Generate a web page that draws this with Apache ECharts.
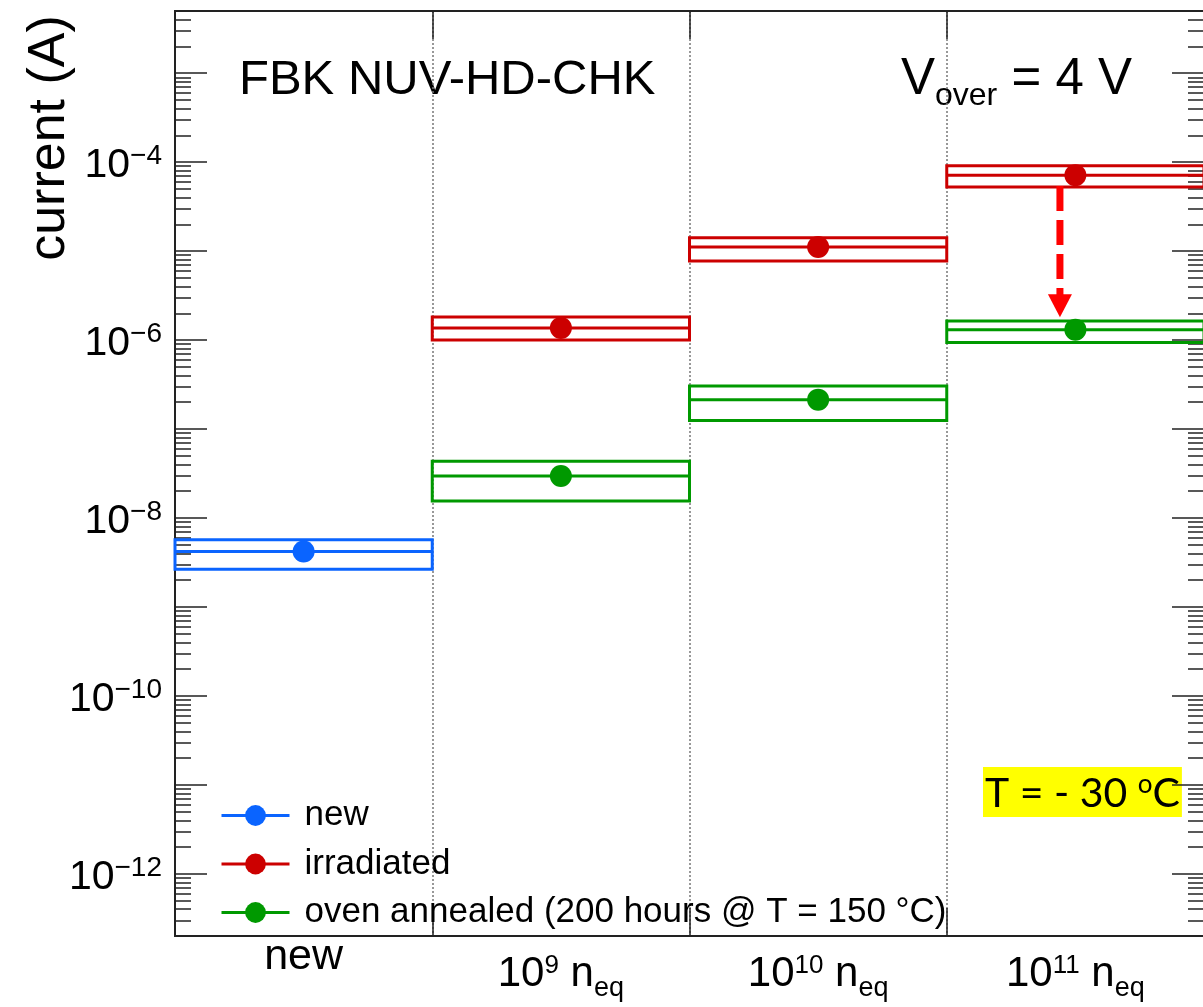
<!DOCTYPE html>
<html>
<head>
<meta charset="utf-8">
<script src="https://cdn.jsdelivr.net/npm/echarts@6/dist/echarts.min.js"></script>
<style>
  html, body { margin: 0; padding: 0; background: #fff; }
  #chart { width: 1203px; height: 1007px; }
</style>
</head>
<body>
<div id="chart"></div>
<script>
// bins on the x axis
const categories = ['new', '1e9', '1e10', '1e11'];
const xTickLabels = [
  '{w|new}',
  '{m|10}{sup|9}{m| n}{sub|eq}',
  '{m|10}{sup|10}{m| n}{sub|eq}',
  '{m|10}{sup|11}{m| n}{sub|eq}'
];

// current (A): central value and box low / high per bin
const newCenter = [4.2e-9, '-', '-', '-'];
const newLow    = [2.66e-9, '-', '-', '-'];
const newHigh   = [5.7e-9, '-', '-', '-'];

const irrCenter = ['-', 1.37e-6, 1.11e-5, 7.14e-5];
const irrLow    = ['-', 1.0e-6, 7.76e-6, 5.27e-5];
const irrHigh   = ['-', 1.82e-6, 1.41e-5, 9.08e-5];

const ovenCenter = ['-', 2.96e-8, 2.14e-7, 1.31e-6];
const ovenLow    = ['-', 1.55e-8, 1.25e-7, 9.37e-7];
const ovenHigh   = ['-', 4.34e-8, 3.05e-7, 1.64e-6];

// annealing arrow (bin index, from, to)
const arrowBin = 3;
const arrowFrom = 5.4e-5;
const arrowTo = 1.8e-6;

// y axis range and ticks
const yMin = 2e-13;
const yMax = 5e-3;
const majorTicks = [1e-12, 1e-11, 1e-10, 1e-9, 1e-8, 1e-7, 1e-6, 1e-5, 1e-4, 1e-3];
const labelTicks = [1e-12, 1e-10, 1e-8, 1e-6, 1e-4];
const minorTicks = [];
for (let e = -13; e <= -3; e++) {
  for (let k = 2; k <= 9; k++) {
    const v = Number(k + 'e' + e);
    if (v > yMin && v < yMax) minorTicks.push(v);
  }
}

const FONT = '"Liberation Sans", Arial, Helvetica, sans-serif';
const BLUE = '#0a64ff', RED = '#cc0000', GREEN = '#009900';
const NAMES = ['new', 'irradiated', 'oven annealed (200 hours @ T = 150 °C)'];

function boxData(low, center, high) {
  const out = [];
  center.forEach((c, i) => {
    if (c !== '-') out.push([i, low[i], c, high[i]]);
  });
  return out;
}

function renderBox(params, api) {
  const i = api.value(0);
  const lo = api.coord([i, api.value(1)]);
  const mid = api.coord([i, api.value(2)]);
  const hi = api.coord([i, api.value(3)]);
  const w = api.size([1, 0])[0];
  const x0 = mid[0] - w / 2;
  const color = api.visual('color');
  return {
    type: 'group',
    children: [
      { type: 'rect', shape: { x: x0, y: hi[1], width: w, height: lo[1] - hi[1] },
        style: { fill: 'none', stroke: color, lineWidth: 3 } },
      { type: 'line', shape: { x1: x0, y1: mid[1], x2: x0 + w, y2: mid[1] },
        style: { stroke: color, lineWidth: 3 } }
    ]
  };
}

function renderArrow(params, api) {
  const w = api.size([1, 0])[0];
  const top = api.coord([api.value(0), api.value(1)]);
  const tip = api.coord([api.value(0), api.value(2)]);
  const x = top[0] - 0.06 * w;
  const headH = 23, headW = 24;
  return {
    type: 'group',
    children: [
      { type: 'line', shape: { x1: x, y1: top[1], x2: x, y2: tip[1] - headH + 2 },
        style: { stroke: '#ff0000', lineWidth: 7, lineDash: [25, 9] } },
      { type: 'polygon', shape: { points: [[x - headW / 2, tip[1] - headH], [x + headW / 2, tip[1] - headH], [x, tip[1]]] },
        style: { fill: '#ff0000' } }
    ]
  };
}

const chart = echarts.init(document.getElementById('chart'), null, { renderer: 'canvas' });

const axisLine = { show: true, lineStyle: { color: '#222', width: 2 } };
const tickStyle = { color: '#222', width: 1.5 };
const yCommon = {
  type: 'log', logBase: 10, min: yMin, max: yMax,
  axisLine: axisLine, splitLine: { show: false }, minorTick: { show: false }
};

chart.setOption({
  animation: false,
  backgroundColor: '#fff',
  grid: { left: 175, top: 11, width: 1029, height: 925, containLabel: false, outerBoundsMode: 'none' },
  legend: {
    orient: 'vertical', left: 215, top: 793,
    itemWidth: 68, itemHeight: 26, itemGap: 13.5,
    selectedMode: false,
    data: NAMES,
    lineStyle: { width: 3 },
    textStyle: { fontSize: 35, fontFamily: FONT, color: '#000', lineHeight: 26, padding: [0, 0, 0, 10] }
  },
  xAxis: [
    {
      type: 'category', data: categories, position: 'bottom', boundaryGap: true,
      axisLine: axisLine,
      axisTick: { show: true, inside: true, length: 28, interval: 0, lineStyle: tickStyle },
      axisLabel: {
        interval: 0, margin: 8, color: '#000', fontFamily: FONT,
        formatter: (v, i) => xTickLabels[i],
        rich: {
          w: { fontSize: 43, fontFamily: FONT, color: '#000', lineHeight: 26 },
          m: { fontSize: 42, fontFamily: FONT, color: '#000', lineHeight: 60, verticalAlign: 'middle' },
          sup: { fontSize: 26, fontFamily: FONT, color: '#000', height: 44, verticalAlign: 'top' },
          sub: { fontSize: 27, fontFamily: FONT, color: '#000', height: 30, verticalAlign: 'bottom' }
        }
      },
      splitLine: { show: true, interval: 0, lineStyle: { color: '#777', width: 1.5, type: [2, 2] } }
    },
    {
      type: 'category', data: categories, position: 'top', boundaryGap: true,
      axisLine: axisLine,
      axisTick: { show: true, inside: true, length: 28, interval: 0, lineStyle: tickStyle },
      axisLabel: { show: false },
      splitLine: { show: false }
    }
  ],
  yAxis: [
    Object.assign({}, yCommon, {
      position: 'left',
      axisTick: { show: true, inside: true, length: 32, customValues: majorTicks, lineStyle: tickStyle },
      axisLabel: {
        show: true, margin: 13, customValues: labelTicks,
        formatter: v => {
          const e = Math.round(Math.log10(v));
          return '{b|10}{s|' + (e < 0 ? '\u2212' + (-e) : e) + '}';
        },
        rich: {
          b: { fontSize: 41, fontFamily: FONT, color: '#000', lineHeight: 48, height: 40, verticalAlign: 'bottom' },
          s: { fontSize: 28, fontFamily: FONT, color: '#000', height: 36, verticalAlign: 'top' }
        }
      }
    }),
    Object.assign({}, yCommon, {
      position: 'left',
      axisTick: { show: true, inside: true, length: 16, customValues: minorTicks, lineStyle: tickStyle },
      axisLabel: { show: false }
    }),
    Object.assign({}, yCommon, {
      position: 'right',
      axisTick: { show: true, inside: true, length: 32, customValues: majorTicks, lineStyle: tickStyle },
      axisLabel: { show: false }
    }),
    Object.assign({}, yCommon, {
      position: 'right',
      axisTick: { show: true, inside: true, length: 16, customValues: minorTicks, lineStyle: tickStyle },
      axisLabel: { show: false }
    })
  ],
  graphic: [
    { type: 'text', x: 50, y: 138, rotation: Math.PI / 2,
      style: { text: 'current (A)', font: '52px ' + FONT, fill: '#000', align: 'center', verticalAlign: 'middle' } },
    { type: 'text', x: 239, y: 80,
      style: { text: 'FBK NUV-HD-CHK', font: '49px ' + FONT, fill: '#000', verticalAlign: 'middle' } },
    { type: 'text', x: 901, y: 80,
      style: {
        text: '{v|V}{s|over}{v| = 4 V}', verticalAlign: 'middle',
        rich: {
          v: { fontSize: 51, fontFamily: FONT, fill: '#000', lineHeight: 60 },
          s: { fontSize: 32, fontFamily: FONT, fill: '#000', height: 28, verticalAlign: 'bottom' }
        }
      } },
    { type: 'text', x: 983, y: 767,
      style: {
        text: '{t|T = - 30 }{o|o}{t|C}', backgroundColor: '#ffff00', padding: [3, 2, 1, 2],
        rich: {
          t: { fontSize: 41, fontFamily: 'Lato, "Open Sans", sans-serif', fill: '#000', lineHeight: 46, verticalAlign: 'bottom', height: 44 },
          o: { fontSize: 26, fontFamily: 'Lato, "Open Sans", sans-serif', fill: '#000', height: 30, verticalAlign: 'top' }
        }
      } }
  ],
  series: [
    { type: 'custom', renderItem: renderBox, itemStyle: { color: BLUE }, data: boxData(newLow, newCenter, newHigh),
      encode: { x: 0, y: [1, 2, 3] }, z: 2 },
    { type: 'custom', renderItem: renderBox, itemStyle: { color: RED }, data: boxData(irrLow, irrCenter, irrHigh),
      encode: { x: 0, y: [1, 2, 3] }, z: 2 },
    { type: 'custom', renderItem: renderBox, itemStyle: { color: GREEN }, data: boxData(ovenLow, ovenCenter, ovenHigh),
      encode: { x: 0, y: [1, 2, 3] }, z: 2 },
    { name: NAMES[0], type: 'line', data: newCenter, symbol: 'circle', symbolSize: 22, showSymbol: true,
      lineStyle: { width: 0 }, itemStyle: { color: BLUE }, z: 4 },
    { name: NAMES[1], type: 'line', data: irrCenter, symbol: 'circle', symbolSize: 22, showSymbol: true,
      lineStyle: { width: 0 }, itemStyle: { color: RED }, z: 4 },
    { name: NAMES[2], type: 'line', data: ovenCenter, symbol: 'circle', symbolSize: 22, showSymbol: true,
      lineStyle: { width: 0 }, itemStyle: { color: GREEN }, z: 4 },
    { type: 'custom', renderItem: renderArrow, data: [[arrowBin, arrowFrom, arrowTo]],
      encode: { x: 0, y: [1, 2] }, z: 3 }
  ]
});
</script>
</body>
</html>
